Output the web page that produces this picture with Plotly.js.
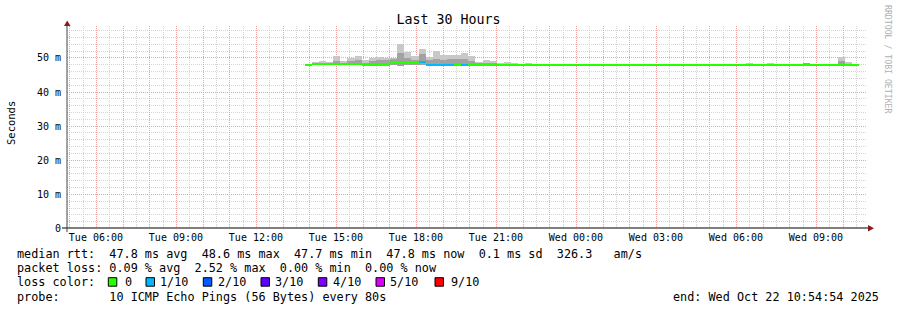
<!DOCTYPE html>
<html><head><meta charset="utf-8">
<script src="https://cdn.plot.ly/plotly-3.0.1.min.js"></script>
<style>html,body{margin:0;padding:0;background:#fff;}#chart{width:897px;height:310px;}</style>
</head><body><div id="chart"></div>
<script>
// ---------- data ----------
const graphStart = "2025-10-21 04:54:54";
const graphEnd = "2025-10-22 10:54:54";
const binStart = "2025-10-21 13:50:00";
const binMinutes = 16;

const smokeMax = [
48.1,48.7,49.0,48.6,50.4,48.8,49.8,50.4,49.2,49.8,
50.0,49.8,49.7,54.0,51.6,50.5,52.4,50.2,51.9,50.6,
50.7,50.7,51.3,50.5,48.7,49.3,49.0,48.4,48.6,48.5,
48.1,48.4,48.1,48.1,48.1,48.1,48.1,48.1,48.1,48.1,
48.1,48.1,48.1,48.1,48.1,48.1,48.1,48.1,48.1,48.1,
48.1,48.1,48.1,48.1,48.1,48.1,48.1,48.1,48.1,48.1,
48.1,48.1,48.4,48.1,48.1,48.4,48.1,48.1,48.1,48.1,
48.3,48.1,48.1,48.1,48.1,50.2,48.6,48.1];
const smokeInner = [
48.1,48.3,48.4,48.3,49.0,48.3,49.0,49.2,48.4,49.0,
49.2,49.3,49.6,51.2,49.8,49.3,51.0,49.3,49.6,49.3,
49.5,49.4,49.6,48.8,48.3,48.5,48.4,48.1,48.2,48.2,
48.0,48.0,48.0,48.0,48.0,48.0,48.0,48.0,48.0,48.0,
48.0,48.0,48.0,48.0,48.0,48.0,48.0,48.0,48.0,48.0,
48.0,48.0,48.0,48.0,48.0,48.0,48.0,48.0,48.0,48.0,
48.0,48.0,48.0,48.0,48.0,48.0,48.0,48.0,48.0,48.0,
48.0,48.0,48.0,48.0,48.0,48.8,48.2,48.0];
const smokeMin = [
47.5,47.8,47.8,47.8,47.8,47.8,47.8,47.8,47.6,47.6,
47.6,47.6,47.8,47.6,47.8,47.8,47.9,47.5,47.5,47.5,
47.5,47.5,47.5,47.5,47.5,47.5,47.5,47.5,47.5,47.5,
47.5,47.5,47.5,47.5,47.5,47.5,47.5,47.5,47.5,47.5,
47.5,47.5,47.5,47.5,47.5,47.5,47.5,47.5,47.5,47.5,
47.5,47.5,47.5,47.5,47.5,47.5,47.5,47.5,47.5,47.5,
47.5,47.5,47.5,47.5,47.5,47.5,47.5,47.5,47.5,47.5,
47.5,47.5,47.5,47.5,47.5,47.5,47.5,47.5];
const medianRtt = [
47.9,48.2,48.2,48.2,48.2,48.0,48.2,48.0,47.9,47.9,
48.0,48.1,48.4,48.5,48.4,48.3,48.7,47.9,47.9,47.9,
47.9,48.0,47.9,47.9,47.9,47.9,47.9,47.9,47.9,47.9,
47.9,47.9,47.9,47.9,47.9,47.9,47.9,47.9,47.9,47.9,
47.9,47.9,47.9,47.9,47.9,47.9,47.9,47.9,47.9,47.9,
47.9,47.9,47.9,47.9,47.9,47.9,47.9,47.9,47.9,47.9,
47.9,47.9,47.9,47.9,47.9,47.9,47.9,47.9,47.9,47.9,
48.2,47.9,47.9,47.9,47.9,47.9,47.9,47.9];
const lossLevel = [
0,0,0,0,0,0,0,0,0,0,
0,0,0,0,0,0,1,1,1,1,
1,0,1,0,0,0,0,0,0,0,
0,0,0,0,0,0,0,0,0,0,
0,0,0,0,0,0,0,0,0,0,
0,0,0,0,0,0,0,0,0,0,
0,0,0,0,0,0,0,0,0,0,
0,0,0,0,0,0,0,0];

const lossLabels = ["0","1/10","2/10","3/10","4/10","5/10","9/10"];
const lossColors = ["#26ff00","#00b8ff","#0059ff","#5e00ff","#7e00ff","#dd00ff","#ff0000"];

const xTickLabels = ["Tue 06:00","Tue 09:00","Tue 12:00","Tue 15:00","Tue 18:00","Tue 21:00","Wed 00:00","Wed 03:00","Wed 06:00","Wed 09:00"];
const firstGridHour = "2025-10-21 05:00:00";
const yTickVals = [0,10,20,30,40,50];
const yTickText = ["0","10 m","20 m","30 m","40 m","50 m"];

const legendRows = [
  "median rtt:  47.8 ms avg  48.6 ms max  47.7 ms min  47.8 ms now  0.1 ms sd  326.3   am/s",
  "packet loss: 0.09 % avg  2.52 % max  0.00 % min  0.00 % now",
  "loss color:",
  "probe:       10 ICMP Echo Pings (56 Bytes) every 80s"
];
const endText = "end: Wed Oct 22 10:54:54 2025";

// ---------- helpers ----------
function toMs(s){ const [d,t]=s.split(" "); const [Y,M,D]=d.split("-").map(Number); const [h,m,sec]=t.split(":").map(Number); return Date.UTC(Y,M-1,D,h,m,sec||0); }
function toStr(ms){ return new Date(ms).toISOString().slice(0,19).replace("T"," "); }
const binMs = binMinutes*60000;
const t0 = toMs(binStart);
const binCenters = medianRtt.map((_,i)=>toStr(t0 + i*binMs + binMs/2));

const hTick0 = toMs(firstGridHour), endMs = toMs(graphEnd), startMs = toMs(graphStart);
const tickVals=[], tickText=[], minorX=[]; let li=0;
for(let t=hTick0; t<=endMs; t+=3600000){
  tickVals.push(toStr(t));
  const hr = new Date(t).getUTCHours();
  tickText.push(hr%3===0 ? (xTickLabels[li++]||"") : "");
}
for(let t=hTick0-1800000; t<=endMs; t+=3600000){ if(t>=startMs) minorX.push(toStr(t)); }
const minorY=[]; for(let v=2; v<59; v+=2){ if(v%10!==0) minorY.push(v); }

const W=897,H=310,L=67,R=867,T=26,B=228;
const px = x => (x-L)/(R-L);
const py = y => (B-y)/(B-T);
const nb = s => s.replace(/ /g,"\u00a0");
const mono = "DejaVu Sans Mono";

const traces = [
  {type:"bar", x:binCenters, base:smokeMin, y:smokeMax.map((v,i)=>v-smokeMin[i]), width:binMs,
   marker:{color:"#c8c8c8", line:{width:0}}, hoverinfo:"skip", showlegend:false},
  {type:"bar", x:binCenters, base:smokeMin, y:smokeInner.map((v,i)=>v-smokeMin[i]), width:binMs,
   marker:{color:"#a2a2a2", line:{width:0}}, hoverinfo:"skip", showlegend:false},
  {type:"bar", x:binCenters, base:medianRtt.map(v=>v-0.3), y:medianRtt.map(()=>0.6), width:binMs,
   marker:{color:lossLevel.map(l=>lossColors[l]), line:{width:0}}, hoverinfo:"skip", showlegend:false}
];

const red = "#f2a0a0", gray = "#d4d4d4", dash = "1px,1px";
const annotations = [];
const rowY = [254, 268.3, 282, 296.6];
const legFont = {family:mono,size:11.8,color:"#000"};
legendRows.forEach((r,i)=>annotations.push({xref:"paper",yref:"paper",x:px(16),y:py(rowY[i]),xanchor:"left",yanchor:"middle",
  text:nb(r),showarrow:false,borderpad:0,font:legFont}));
annotations.push({xref:"paper",yref:"paper",x:px(880),y:py(rowY[3]),xanchor:"right",yanchor:"middle",
  text:nb(endText),showarrow:false,borderpad:0,font:legFont});
const swatchX = [108.3,146,203.3,261,318.3,376,435];
const swLabelX = [124,159.3,216.7,274,331.7,389.3,450];
const shapes = [];
lossLabels.forEach((lab,i)=>{
  shapes.push({type:"rect",xref:"paper",yref:"paper",x0:px(swatchX[i]),x1:px(swatchX[i]+8.5),y0:py(277.7),y1:py(286.2),
    fillcolor:lossColors[i],line:{color:"#000",width:1}});
  annotations.push({xref:"paper",yref:"paper",x:px(swLabelX[i]),y:py(rowY[2]),xanchor:"left",yanchor:"middle",
    text:nb(lab),showarrow:false,borderpad:0,font:legFont});
});
annotations.push({xref:"paper",yref:"paper",x:px(11),y:py(123),xanchor:"center",yanchor:"middle",textangle:-90,
  text:"Seconds",showarrow:false,borderpad:0,font:{family:mono,size:10.5,color:"#000"}});
annotations.push({xref:"paper",yref:"paper",x:px(888),y:py(59),xanchor:"center",yanchor:"middle",textangle:90,
  text:nb("RRDTOOL / TOBI OETIKER"),showarrow:false,borderpad:0,font:{family:mono,size:8.2,color:"#b0b0b0"}});

shapes.push({type:"line",xref:"paper",yref:"paper",x0:px(62),x1:px(869),y0:py(228),y1:py(228),line:{color:"#000",width:1},layer:"above"});
shapes.push({type:"line",xref:"paper",yref:"paper",x0:px(67),x1:px(67),y0:py(232),y1:py(25),line:{color:"#444",width:1},layer:"above"});
shapes.push({type:"path",xref:"paper",yref:"paper",
  path:`M ${px(64)} ${py(26)} L ${px(70.5)} ${py(26)} L ${px(67.2)} ${py(20.5)} Z`,fillcolor:"#8b1a1a",line:{width:0},layer:"above"});
shapes.push({type:"path",xref:"paper",yref:"paper",
  path:`M ${px(868)} ${py(225)} L ${px(868)} ${py(231.5)} L ${px(874)} ${py(228.2)} Z`,fillcolor:"#8b1a1a",line:{width:0},layer:"above"});

const layout = {
  width:W, height:H, margin:{l:L, r:W-R, t:T, b:H-B},
  paper_bgcolor:"#fff", plot_bgcolor:"#fff",
  barmode:"overlay", bargap:0, showlegend:false,
  title:{text:"Last 30 Hours", font:{family:mono,size:13.3,color:"#000"}, x:0.5, xref:"container", xanchor:"center", y:1-19/H, yref:"container", yanchor:"middle"},
  xaxis:{type:"date", range:[graphStart,graphEnd], tickmode:"array", tickvals:tickVals, ticktext:tickText,
    showgrid:true, gridcolor:red, griddash:dash, gridwidth:1, zeroline:false, showline:false, ticks:"",
    ticklabelstandoff:2, tickfont:{family:mono,size:10,color:"#000"}, fixedrange:true,
    minor:{tickmode:"array", tickvals:minorX, showgrid:true, gridcolor:gray, griddash:dash, gridwidth:1, ticks:""}},
  yaxis:{range:[0,59.2], tickmode:"array", tickvals:yTickVals, ticktext:yTickText,
    showgrid:true, gridcolor:red, griddash:dash, gridwidth:1, zeroline:false, showline:false, ticks:"",
    ticklabelstandoff:5, tickfont:{family:mono,size:10,color:"#000"}, fixedrange:true,
    minor:{tickmode:"array", tickvals:minorY, showgrid:true, gridcolor:gray, griddash:dash, gridwidth:1, ticks:""}},
  annotations, shapes
};
Plotly.newPlot("chart", traces, layout, {staticPlot:true, displayModeBar:false}).then(gd=>{
  // snap the library's grid lines and tick labels onto whole pixels (as RRDtool does)
  gd.querySelectorAll(".gridlayer path, .minor-gridlayer path, .ytick text").forEach(p=>{
    const tr = p.getAttribute("transform")||"";
    const m = tr.match(/translate\(\s*([-\d.e]+)\s*,\s*([-\d.e]+)\s*\)/);
    if(!m) return;
    p.setAttribute("transform", `translate(${Math.round(parseFloat(m[1]))},${Math.round(parseFloat(m[2]))})`);
  });
  gd.querySelectorAll(".ytick text").forEach(t=>{
    const x = parseFloat(t.getAttribute("x")||"0"); t.setAttribute("x", Math.round(x));
    t.style.fill = "#000";
  });
});
</script></body></html>
